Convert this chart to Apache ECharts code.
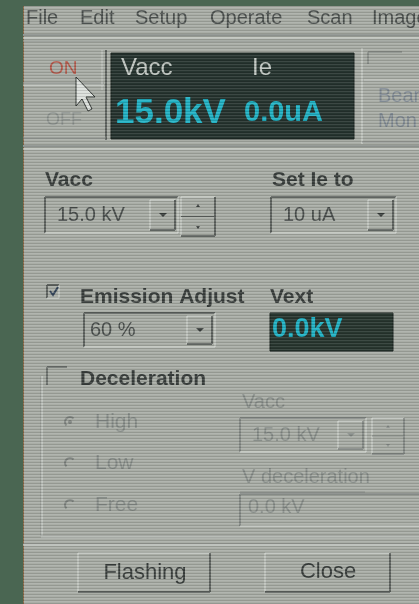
<!DOCTYPE html>
<html><head><meta charset="utf-8">
<script src="https://cdn.jsdelivr.net/npm/echarts@6/dist/echarts.min.js"></script>
<style>html,body{margin:0;padding:0;background:#4a6652;overflow:hidden}#c{width:419px;height:604px}</style>
</head><body><div id="c"></div>
<script>
// ---- content ----
const menuItems = ['File', 'Edit', 'Setup', 'Operate', 'Scan', 'Image'];
const powerButtons = ['ON', 'OFF'];
const displayLabels = ['Vacc', 'Ie'];
const displayValues = ['15.0kV', '0.0uA'];
const sideButtons = ['Bear', 'Mon'];
const fieldLabels = ['Vacc', 'Set Ie to'];
const vaccSetting = '15.0 kV';
const ieSetting = '10 uA';
const emissionLabel = 'Emission Adjust';
const emissionPct = '60 %';
const vextLabel = 'Vext';
const vextValue = '0.0kV';
const decelLabel = 'Deceleration';
const decelModes = ['High', 'Low', 'Free'];
const decelFieldLabels = ['Vacc', 'V deceleration'];
const decelVacc = '15.0 kV';
const decelVoltage = '0.0 kV';
const footerButtons = ['Flashing', 'Close'];

// ---- styling ----
const FONT = '"Liberation Sans", Arial, sans-serif';
const PANEL = '#a9ada6';
const DARK = '#5f6460';
const LIGHT = '#d6dad5';
const TEXT = '#3a3f3d';
const GREY = '#878d89';
const CYAN = '#22b2c4';
const els = [];
function rect(x, y, w, h, fill, stroke, z) {
  els.push({type: 'rect', shape: {x, y, width: w, height: h}, style: {fill: fill || 'none', stroke: stroke || null, lineWidth: 1}, z: z || 1, silent: true});
}
function line(x1, y1, x2, y2, c, lw, z) {
  els.push({type: 'line', shape: {x1, y1, x2, y2}, style: {stroke: c, lineWidth: lw || 1}, z: z || 2, silent: true});
}
function text(x, y, s, o) {
  o = o || {};
  els.push({type: 'text', x, y, style: {text: s, fill: o.fill || TEXT, font: (o.weight || 'normal') + ' ' + (o.size || 20) + 'px ' + FONT, textAlign: o.align || 'left', textVerticalAlign: 'middle'}, z: o.z || 5, silent: true});
}
function sunken(x, y, w, h, fill, dim) {
  rect(x, y, w, h, fill);
  const d = dim ? '#858a86' : DARK;
  line(x, y, x + w, y, d, 2);
  line(x, y, x, y + h, d, 2);
  line(x, y + h, x + w, y + h, LIGHT, 1);
  line(x + w, y, x + w, y + h, LIGHT, 1);
}
function raised(x, y, w, h, dim) {
  const d = dim ? '#858a86' : DARK;
  line(x, y, x + w, y, LIGHT, 1);
  line(x, y, x, y + h, LIGHT, 1);
  line(x, y + h, x + w, y + h, d, 2);
  line(x + w, y, x + w, y + h, d, 2);
}
function arrow(cx, cy, c) {
  els.push({type: 'polygon', shape: {points: [[cx - 4, cy - 2], [cx + 4, cy - 2], [cx, cy + 2]]}, style: {fill: c}, z: 4, silent: true});
}
function combo(x, y, w, h, val, dim, tx) {
  sunken(x, y, w, h, PANEL, dim);
  text(x + (tx || 12), y + h / 2, val, {fill: dim ? GREY : '#4a4f4d', size: 20});
  raised(x + w - 28, y + 3, 25, h - 6, dim);
  arrow(x + w - 15, y + h / 2, dim ? GREY : '#3a3f3d');
}
function spinner(x, y, w, h, dim) {
  raised(x, y, w, h, dim);
  const c = dim ? GREY : '#3a3f3d';
  line(x, y + h / 2, x + w, y + h / 2, dim ? '#858a86' : DARK, 1);
  els.push({type: 'polygon', shape: {points: [[x + w / 2 - 2, y + 10], [x + w / 2 + 2, y + 10], [x + w / 2, y + 7]]}, style: {fill: c}, z: 4, silent: true});
  els.push({type: 'polygon', shape: {points: [[x + w / 2 - 2, y + h - 10], [x + w / 2 + 2, y + h - 10], [x + w / 2, y + h - 7]]}, style: {fill: c}, z: 4, silent: true});
}

// background panel
rect(23, 6, 396, 598, PANEL, null, 0);
line(23.5, 6, 23.5, 604, '#8a6a4a', 1);

// menu bar
const menuX = [26, 80, 135, 210, 307, 372];
menuItems.forEach((m, i) => {
  text(menuX[i], 18, m, {size: 20, fill: '#4c514f'});
});
line(23, 35, 419, 35, '#8c918d', 2);
line(23, 38, 419, 38, LIGHT, 1);
line(23, 41, 419, 41, '#959a96', 1);

// power buttons
text(49, 69, powerButtons[0], {fill: '#b3584a', size: 19});
text(46, 120, powerButtons[1], {fill: '#8e9490', size: 18});
line(23, 83, 104, 83, '#8c918d', 1);
line(23, 85, 104, 85, LIGHT, 1);
line(106, 50, 106, 140, DARK, 2);
line(102, 50, 102, 90, '#c6cac5', 1);
line(23, 138, 106, 138, '#8c918d', 1);
// cursor
els.push({type: 'polygon', shape: {points: [[76, 77], [76, 106], [82, 99], [88, 111], [92, 109], [86, 97], [95, 97]]}, style: {fill: '#dde1dd', stroke: '#2f3431', lineWidth: 1}, z: 6, silent: true});

// readout display
rect(111, 53, 243, 86, '#26342f', '#1b2420', 2);
text(121, 68, displayLabels[0], {fill: '#c3c9c4', size: 24});
text(252, 68, displayLabels[1], {fill: '#c3c9c4', size: 24});
text(115, 113, displayValues[0], {fill: CYAN, size: 35, weight: 'bold'});
text(244, 113, displayValues[1], {fill: CYAN, size: 29, weight: 'bold'});

// right side partial buttons
line(362, 48, 362, 144, LIGHT, 1);
line(368, 52, 368, 64, '#6f7470', 1);
line(368, 52, 402, 52, '#6f7470', 1);
line(364, 80, 419, 80, '#c6cac5', 1);
text(378, 96, sideButtons[0], {fill: '#808a93', size: 20});
text(378, 121, sideButtons[1], {fill: '#808a93', size: 20});
line(362, 142, 419, 142, '#8c918d', 1);

line(23, 146, 419, 146, '#8c918d', 2);
line(23, 149, 419, 149, LIGHT, 1);

// Vacc / Set Ie
text(45, 180, fieldLabels[0], {weight: 'bold', size: 21});
text(272, 180, fieldLabels[1], {weight: 'bold', size: 21});
combo(45, 197, 133, 36, vaccSetting, false);
spinner(181, 197, 34, 39, false);
combo(271, 197, 125, 36, ieSetting, false);

// Emission adjust
sunken(47, 285, 12, 13, PANEL, false);
els.push({type: 'polyline', shape: {points: [[50, 291], [53, 295], [58, 287]]}, style: {stroke: '#35465a', lineWidth: 2}, z: 5, silent: true});
text(80, 297, emissionLabel, {weight: 'bold', size: 21});
text(270, 297, vextLabel, {weight: 'bold', size: 21});
combo(84, 313, 131, 34, emissionPct, false, 6);
rect(270, 313, 123, 38, '#28362f', '#1b2420');
text(272, 330, vextValue, {fill: CYAN, size: 27, weight: 'bold'});

// Deceleration group
line(41, 376, 41, 536, '#8c918d', 1);
line(42, 376, 42, 536, LIGHT, 1);
line(41, 536, 419, 536, '#8c918d', 1);
line(41, 537, 419, 537, LIGHT, 1);
line(47, 367, 67, 367, '#6f7470', 2);
line(47, 367, 47, 385, '#6f7470', 2);
text(80, 379, decelLabel, {weight: 'bold', size: 21});
const radioY = [422, 463, 505];
decelModes.forEach((m, i) => {
  els.push({type: 'arc', shape: {cx: 70, cy: radioY[i], r: 5, startAngle: Math.PI * 0.75, endAngle: Math.PI * 1.75}, style: {stroke: '#7f8480', lineWidth: 2, fill: 'none'}, z: 4, silent: true});
  if (i === 0) els.push({type: 'circle', shape: {cx: 70, cy: radioY[i], r: 2}, style: {fill: '#7f8480'}, z: 4, silent: true});
  text(95, radioY[i], m, {fill: GREY, size: 21});
});
text(242, 402, decelFieldLabels[0], {fill: GREY, size: 20});
combo(240, 418, 126, 34, decelVacc, true);
spinner(372, 418, 32, 36, true);
text(242, 477, decelFieldLabels[1], {fill: GREY, size: 20});
line(240, 492, 365, 492, '#8a8f8b', 1);
sunken(240, 494, 180, 32, PANEL, true);
text(248, 507, decelVoltage, {fill: GREY, size: 20});

// footer
line(23, 544, 419, 544, '#8c918d', 1);
line(23, 545, 419, 545, LIGHT, 1);
raised(78, 553, 132, 39, false);
raised(265, 553, 125, 39, false);
text(145, 573, footerButtons[0], {align: 'center', size: 22});
text(328, 572, footerButtons[1], {align: 'center', size: 22});

// scanlines
for (let y = 6; y < 604; y += 3) {
  line(23, y + 0.5, 419, y + 0.5, 'rgba(0,0,0,0.12)', 1, 20);
  line(23, y + 1.5, 419, y + 1.5, 'rgba(255,255,255,0.10)', 1, 20);
}

const chart = echarts.init(document.getElementById('c'), null, {renderer: 'canvas'});
chart.setOption({animation: false, backgroundColor: '#4a6652', graphic: {elements: els}});
</script>
</body></html>
